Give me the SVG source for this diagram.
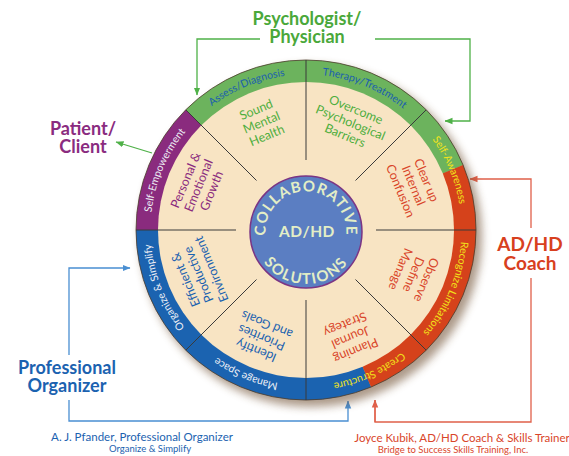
<svg xmlns="http://www.w3.org/2000/svg" width="569" height="456" viewBox="0 0 569 456">
<defs>
<style>
.t{font-family:Lato,'Open Sans','Liberation Sans',sans-serif}
.title{font-weight:bold;font-size:18px;text-anchor:middle}
.w{font-size:12.5px;text-anchor:middle}
.r{font-size:10.5px;text-anchor:middle}
.c{font-weight:bold;fill:#e3eec6}
.div{stroke:#3a3a3a;stroke-width:1}
.cg{fill:none;stroke:#4fb148;stroke-width:1.3}
.cb{fill:none;stroke:#4a8fd2;stroke-width:1.3}
.cr{fill:none;stroke:#e0604a;stroke-width:1.3}
.green{fill:#4fae3e}.purple{fill:#8a2b7e}.blue{fill:#1b62b0}.red{fill:#d9452a}
</style>
<filter id="sh" x="-20%" y="-20%" width="140%" height="140%"><feGaussianBlur stdDeviation="4"/></filter>
<marker id="mg" markerWidth="8" markerHeight="8" refX="7.5" refY="4" orient="auto" markerUnits="userSpaceOnUse"><path d="M0,0.8 L8,4 L0,7.2 z" fill="#4fb148"/></marker>
<marker id="mb" markerWidth="8" markerHeight="8" refX="7.5" refY="4" orient="auto" markerUnits="userSpaceOnUse"><path d="M0,0.8 L8,4 L0,7.2 z" fill="#4a8fd2"/></marker>
<marker id="mr" markerWidth="8" markerHeight="8" refX="7.5" refY="4" orient="auto" markerUnits="userSpaceOnUse"><path d="M0,0.8 L8,4 L0,7.2 z" fill="#e0604a"/></marker>
<path id="ringPath" d="M150.5,230 A155.5,155.5 0 1 1 461.5,230 A155.5,155.5 0 1 1 150.5,230"/>
<path id="topArc" d="M265.5,232 A40.5,40.5 0 1 1 346.5,232 A40.5,40.5 0 1 1 265.5,232"/>
<path id="botArc" d="M254,232 A52,52 0 0 0 358,232"/>
</defs>
<rect width="569" height="456" fill="#ffffff"/>

<g id="connectors">
<path class="cg" d="M260,39 H197 V95" marker-end="url(#mg)"/>
<path class="cg" d="M375,39 H470 V121 H445" marker-end="url(#mg)"/>
<path class="cg" d="M152,153 L116,142" marker-end="url(#mg)"/>
<path class="cb" d="M69,355 V268 H130" marker-end="url(#mb)"/>
<path class="cb" d="M69,400 V421 H348 V401" marker-end="url(#mb)"/>
<path class="cr" d="M375,400 V422 H531 V278" />
<path class="cr" d="M375,422 V400" marker-end="url(#mr)"/>
<path class="cr" d="M531,228 V179 H470" marker-end="url(#mr)"/>
</g>

<g id="wheel">
<circle cx="311" cy="236" r="171" fill="#6b4a2c" opacity="0.55" filter="url(#sh)"/>
<g id="ring">
<path d="M306,230 L463.06,164.94 A170,170 0 0 0 185.79,109.79 Z" fill="#6cb35d"/>
<path d="M306,230 L185.79,109.79 A170,170 0 0 0 136,230 Z" fill="#8a2b7e"/>
<path d="M306,230 L136,230 A170,170 0 0 0 371.06,387.06 Z" fill="#1b63b0"/>
<path d="M306,230 L371.06,387.06 A170,170 0 0 0 463.06,164.94 Z" fill="#d5421b"/>
<circle cx="306" cy="230" r="170" fill="none" stroke="#4a3a2a" stroke-width="0.8"/>
<circle cx="306" cy="230" r="148" fill="#f8e4c3"/>
</g>
<g id="dividers" class="div">
<line x1="376" y1="230" x2="476" y2="230"/>
<line x1="355.5" y1="180.5" x2="426.2" y2="109.8"/>
<line x1="306" y1="160" x2="306" y2="60"/>
<line x1="256.5" y1="180.5" x2="185.8" y2="109.8"/>
<line x1="236" y1="230" x2="136" y2="230"/>
<line x1="256.5" y1="279.5" x2="185.8" y2="350.2"/>
<line x1="306" y1="300" x2="306" y2="400"/>
<line x1="355.5" y1="279.5" x2="426.2" y2="350.2"/>
</g>
<g id="ring-labels" class="t r">
<text style="fill:#1b5fae"><textPath href="#ringPath" startOffset="183">Assess/Diagnosis</textPath></text>
<text style="fill:#1b5fae"><textPath href="#ringPath" startOffset="305">Therapy/Treatment</textPath></text>
<text style="fill:#f2e31a"><textPath href="#ringPath" startOffset="427">Self-Awareness</textPath></text>
<text style="fill:#f2e31a"><textPath href="#ringPath" startOffset="550">Recognize Limitations</textPath></text>
<text style="fill:#f2e31a"><textPath href="#ringPath" startOffset="667">Create Structure</textPath></text>
<text style="fill:#eef0f6"><textPath href="#ringPath" startOffset="794">Manage Space</textPath></text>
<text style="fill:#eef0f6"><textPath href="#ringPath" startOffset="917">Organize &amp; Simplify</textPath></text>
<text style="fill:#eef0f6"><textPath href="#ringPath" startOffset="62">Self-Empowerment</textPath></text>
</g>
<g id="w-sound" class="t w green" transform="translate(261.6,122.8) rotate(-22.5)"><text y="-10">Sound</text><text y="4">Mental</text><text y="18">Health</text></g>
<g id="w-overcome" class="t w green" transform="translate(350.4,122.8) rotate(22.5)"><text y="-10">Overcome</text><text y="4">Psychological</text><text y="18">Barriers</text></g>
<g id="w-clear" class="t w red" transform="translate(413.2,185.6) rotate(67.5)"><text y="-10">Clear up</text><text y="4">Internal</text><text y="18">Confusion</text></g>
<g id="w-observe" class="t w red" transform="translate(413.2,274.4) rotate(112.5)"><text y="-10">Observe</text><text y="4">Define</text><text y="18">Manage</text></g>
<g id="w-planning" class="t w red" transform="translate(350.4,337.2) rotate(157.5)"><text y="-10">Planning</text><text y="4">Journal</text><text y="18">Strategy</text></g>
<g id="w-identify" class="t w blue" transform="translate(261.6,337.2) rotate(202.5)"><text y="-10">Identify</text><text y="4">Priorities</text><text y="18">and Goals</text></g>
<g id="w-efficient" class="t w blue" transform="translate(198.8,274.4) rotate(247.5)"><text y="-10">Efficient &amp;</text><text y="4">Productive</text><text y="18">Environment</text></g>
<g id="w-personal" class="t w purple" transform="translate(198.8,185.6) rotate(-67.5)"><text y="-10">Personal &amp;</text><text y="4">Emotional</text><text y="18">Growth</text></g>
<g id="center">
<circle cx="306" cy="232" r="56" fill="#5b7ec2" stroke="#7a3585" stroke-width="1.5"/>
<text class="t c" font-size="15" letter-spacing="1" text-anchor="middle"><textPath href="#topArc" startOffset="63.6">COLLABORATIVE</textPath></text>
<text class="t c" font-size="15" letter-spacing="1.6" text-anchor="middle"><textPath href="#botArc" startOffset="50%">SOLUTIONS</textPath></text>
<text class="t c" x="307" y="237" font-size="15.5" letter-spacing="0.5" text-anchor="middle">AD/HD</text>
</g>
</g>

<g id="psychologist" class="t title" fill="#4aa83a"><text x="307" y="25">Psychologist/</text><text x="307" y="43">Physician</text></g>
<g id="patient" class="t title" fill="#8a2b80"><text x="83" y="135">Patient/</text><text x="83" y="153">Client</text></g>
<g id="organizer" class="t title" fill="#1b62b0"><text x="67" y="374">Professional</text><text x="67" y="392">Organizer</text></g>
<g id="coach" class="t title" fill="#d8401e"><text x="530" y="251" style="font-size:19px">AD/HD</text><text x="530" y="270" style="font-size:19px">Coach</text></g>
<g id="credit-organizer" class="t" fill="#1b62b0" text-anchor="middle"><text x="142" y="441" font-size="11.5">A. J. Pfander, Professional Organizer</text><text x="150" y="452" font-size="9.5">Organize &amp; Simplify</text></g>
<g id="credit-coach" class="t" fill="#d9452a" text-anchor="middle"><text x="462" y="442" font-size="11.5">Joyce Kubik, AD/HD Coach &amp; Skills Trainer</text><text x="453" y="453" font-size="9.5">Bridge to Success Skills Training, Inc.</text></g>
</svg>
